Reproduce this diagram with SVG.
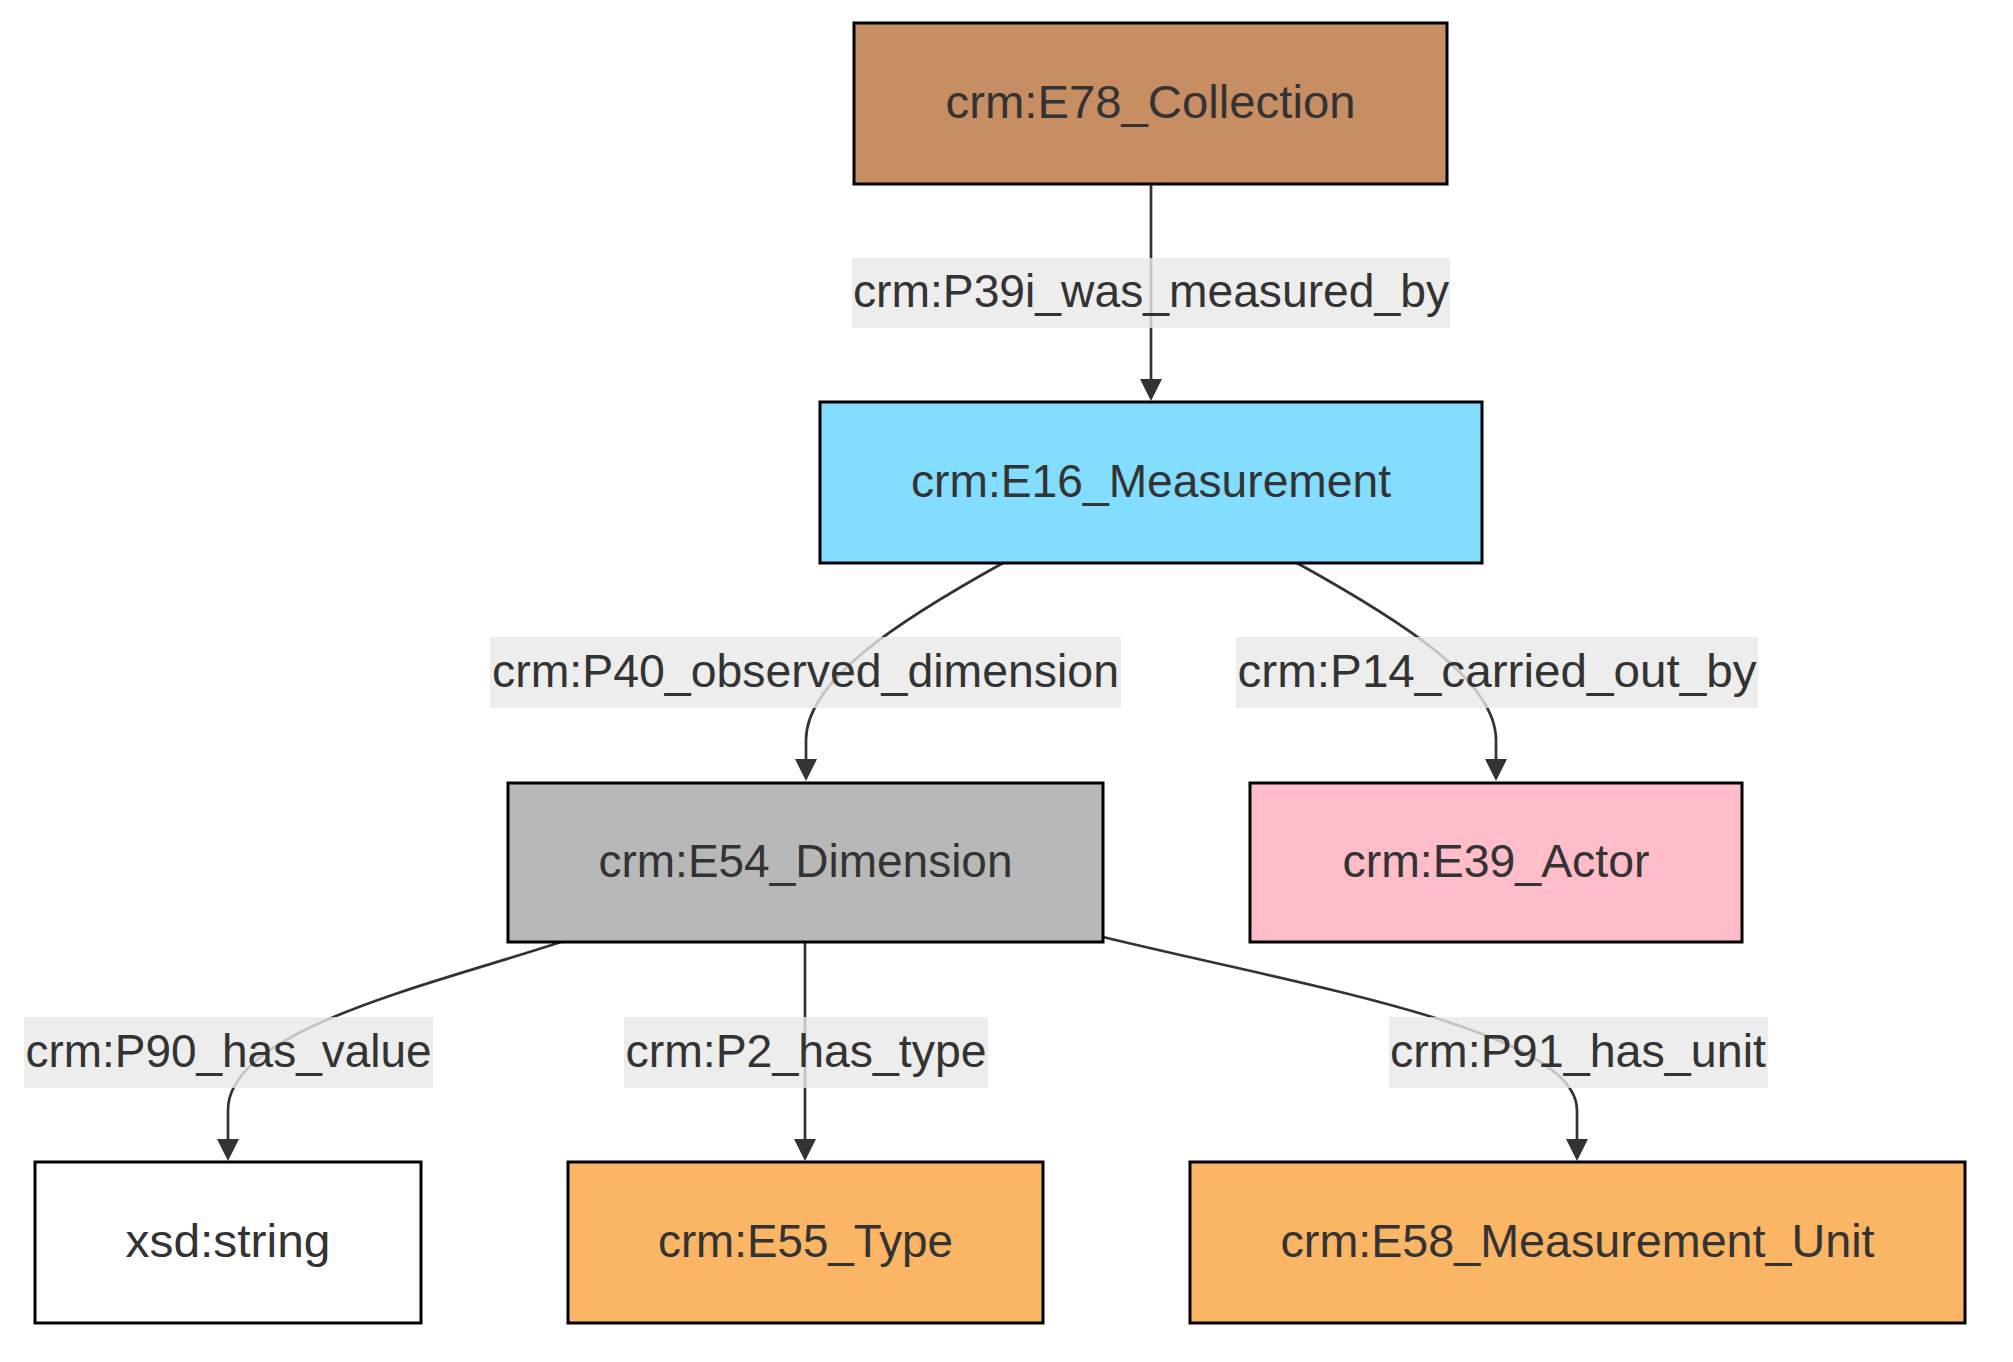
<svg xmlns="http://www.w3.org/2000/svg" width="2013" height="1362" viewBox="0 0 2013 1362">
<style>
.node rect{stroke:#000;stroke-width:3}
.lbl{font-family:"Liberation Sans",Arial,sans-serif;font-size:47px;fill:#333;text-anchor:middle}
.edge{fill:none;stroke:#333;stroke-width:2.7}
.elbg{fill:rgba(232,232,232,0.8)}
</style>
<defs>
<marker id="arrow" viewBox="0 0 10 10" refX="0" refY="5" markerUnits="userSpaceOnUse" markerWidth="23" markerHeight="22" orient="auto">
<path d="M0,0 L10,5 L0,10 z" fill="#333"/>
</marker>
</defs>
<rect width="2013" height="1362" fill="#fff"/>
<g id="connectors">
<path class="edge" d="M1151,184 L1151,379" marker-end="url(#arrow)"/>
<path class="edge" d="M1003,563 C900,620 806,680 806,740 L806,759" marker-end="url(#arrow)"/>
<path class="edge" d="M1297,563 C1400,620 1496,680 1496,740 L1496,759" marker-end="url(#arrow)"/>
<path class="edge" d="M561,942 C430,985 228,1030 228,1110 L228,1139" marker-end="url(#arrow)"/>
<path class="edge" d="M805,942 L805,1139" marker-end="url(#arrow)"/>
<path class="edge" d="M1103,937 C1300,985 1577,1030 1577,1110 L1577,1139" marker-end="url(#arrow)"/>
<g id="edge-labels">
<rect class="elbg" x="852" y="258" width="598" height="70"/>
<text class="lbl" x="1151" y="307" textLength="596" lengthAdjust="spacingAndGlyphs">crm:P39i_was_measured_by</text>
<rect class="elbg" x="490" y="637" width="631" height="71"/>
<text class="lbl" x="805.5" y="687" textLength="627" lengthAdjust="spacingAndGlyphs">crm:P40_observed_dimension</text>
<rect class="elbg" x="1236" y="637" width="522" height="71"/>
<text class="lbl" x="1497" y="687" textLength="519" lengthAdjust="spacingAndGlyphs">crm:P14_carried_out_by</text>
<rect class="elbg" x="24" y="1017" width="409" height="71"/>
<text class="lbl" x="228.5" y="1067" textLength="406" lengthAdjust="spacingAndGlyphs">crm:P90_has_value</text>
<rect class="elbg" x="624" y="1017" width="364" height="71"/>
<text class="lbl" x="806" y="1067" textLength="361" lengthAdjust="spacingAndGlyphs">crm:P2_has_type</text>
<rect class="elbg" x="1389" y="1017" width="379" height="71"/>
<text class="lbl" x="1578" y="1067" textLength="376" lengthAdjust="spacingAndGlyphs">crm:P91_has_unit</text>
</g>
</g>
<g id="E78" class="node">
<rect x="854" y="23" width="593" height="161" fill="#c78d63"/>
<text class="lbl" x="1150.5" y="118" textLength="410" lengthAdjust="spacingAndGlyphs">crm:E78_Collection</text>
</g>
<g id="E16" class="node">
<rect x="820" y="402" width="662" height="161" fill="#82ddff"/>
<text class="lbl" x="1151" y="497" textLength="480" lengthAdjust="spacingAndGlyphs">crm:E16_Measurement</text>
</g>
<g id="E54" class="node">
<rect x="508" y="783" width="595" height="159" fill="#b8b8b8"/>
<text class="lbl" x="805.5" y="877" textLength="414" lengthAdjust="spacingAndGlyphs">crm:E54_Dimension</text>
</g>
<g id="E39" class="node">
<rect x="1250" y="783" width="492" height="159" fill="#ffbdca"/>
<text class="lbl" x="1496" y="877" textLength="307" lengthAdjust="spacingAndGlyphs">crm:E39_Actor</text>
</g>
<g id="xsd_string" class="node">
<rect x="35" y="1162" width="386" height="161" fill="#ffffff"/>
<text class="lbl" x="228" y="1257" textLength="205" lengthAdjust="spacingAndGlyphs">xsd:string</text>
</g>
<g id="E55" class="node">
<rect x="568" y="1162" width="475" height="161" fill="#fab565"/>
<text class="lbl" x="805.5" y="1257" textLength="295" lengthAdjust="spacingAndGlyphs">crm:E55_Type</text>
</g>
<g id="E58" class="node">
<rect x="1190" y="1162" width="775" height="161" fill="#fab565"/>
<text class="lbl" x="1577.5" y="1257" textLength="594" lengthAdjust="spacingAndGlyphs">crm:E58_Measurement_Unit</text>
</g>
</svg>
